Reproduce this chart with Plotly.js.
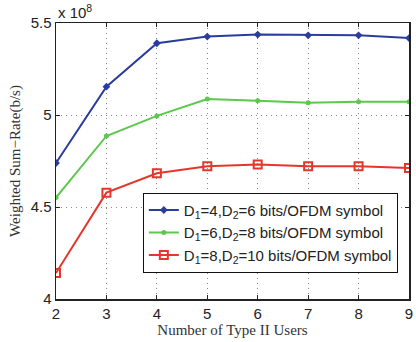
<!DOCTYPE html>
<html>
<head>
<meta charset="utf-8">
<script src="https://cdn.plot.ly/plotly-3.0.1.min.js"></script>
<style>html,body{margin:0;padding:0;background:#fff;}#chart{width:416px;height:342px;}</style>
</head>
<body>
<div id="chart"></div>
<script>
const users = [2, 3, 4, 5, 6, 7, 8, 9];
const rateD4D6 = [4.739, 5.154, 5.390, 5.426, 5.437, 5.433, 5.433, 5.418];
const rateD6D8 = [4.551, 4.886, 4.995, 5.087, 5.078, 5.067, 5.072, 5.072];
const rateD8D10 = [4.141, 4.578, 4.683, 4.721, 4.731, 4.721, 4.721, 4.712];
const seriesNames = [
  'D<sub>1</sub>=4,D<sub>2</sub>=6 bits/OFDM symbol',
  'D<sub>1</sub>=6,D<sub>2</sub>=8 bits/OFDM symbol',
  'D<sub>1</sub>=8,D<sub>2</sub>=10 bits/OFDM symbol'
];
const xTicks = [2, 3, 4, 5, 6, 7, 8, 9];
const yTicks = [4, 4.5, 5, 5.5];
const yTickText = ['4', '4.5', '5', '5.5'];

const traces = [
  {x: users, y: rateD4D6, name: seriesNames[0], mode: 'lines+markers',
   line: {color: '#2b3d9c', width: 2}, marker: {symbol: 'diamond', size: 6, color: '#2b3d9c'}},
  {x: users, y: rateD6D8, name: seriesNames[1], mode: 'lines+markers',
   line: {color: '#5cc84c', width: 2}, marker: {symbol: 'circle', size: 5, color: '#5cc84c'}},
  {x: users, y: rateD8D10, name: seriesNames[2], mode: 'lines+markers',
   line: {color: '#e5362c', width: 2}, marker: {symbol: 'square-open', size: 8, color: '#e5362c', line: {width: 2}}}
];

const axisCommon = {
  showline: true, mirror: 'ticks', linecolor: '#222', linewidth: 1.5,
  ticks: 'inside', ticklen: 4, tickcolor: '#222',
  showgrid: true, gridcolor: '#888', griddash: '1px,4px', gridwidth: 1,
  zeroline: false,
  tickfont: {family: 'Liberation Sans, Arial, sans-serif', size: 15, color: '#222'}
};

const layout = {
  width: 416, height: 342,
  margin: {l: 56, r: 7, t: 23, b: 43, autoexpand: false},
  paper_bgcolor: '#fff', plot_bgcolor: '#fff',
  showlegend: true,
  xaxis: Object.assign({}, axisCommon, {
    range: [2, 9], tickvals: xTicks,
    title: {text: 'Number of Type II Users', standoff: 3,
      font: {family: 'Liberation Serif, Times New Roman, serif', size: 15, color: '#333'}}
  }),
  yaxis: Object.assign({}, axisCommon, {
    range: [4, 5.5], tickvals: yTicks, ticktext: yTickText,
    title: {text: 'Weighted Sum\u2212Rate(b/s)', standoff: 6,
      font: {family: 'Liberation Serif, Times New Roman, serif', size: 15, color: '#333'}}
  }),
  legend: {
    x: 0.246, y: 0.385, xanchor: 'left', yanchor: 'top',
    bgcolor: '#fff', bordercolor: '#111', borderwidth: 1,
    font: {family: 'Liberation Sans, Arial, sans-serif', size: 15, color: '#222'},
    itemwidth: 30, tracegroupgap: 0
  },
  annotations: [{
    xref: 'paper', yref: 'paper', x: 0, y: 1, xanchor: 'left', yanchor: 'bottom',
    text: 'x 10<sup>8</sup>', showarrow: false, yshift: 0,
    font: {family: 'Liberation Sans, Arial, sans-serif', size: 15, color: '#222'}
  }]
};

Plotly.newPlot('chart', traces, layout, {displayModeBar: false, staticPlot: true});
</script>
</body>
</html>
